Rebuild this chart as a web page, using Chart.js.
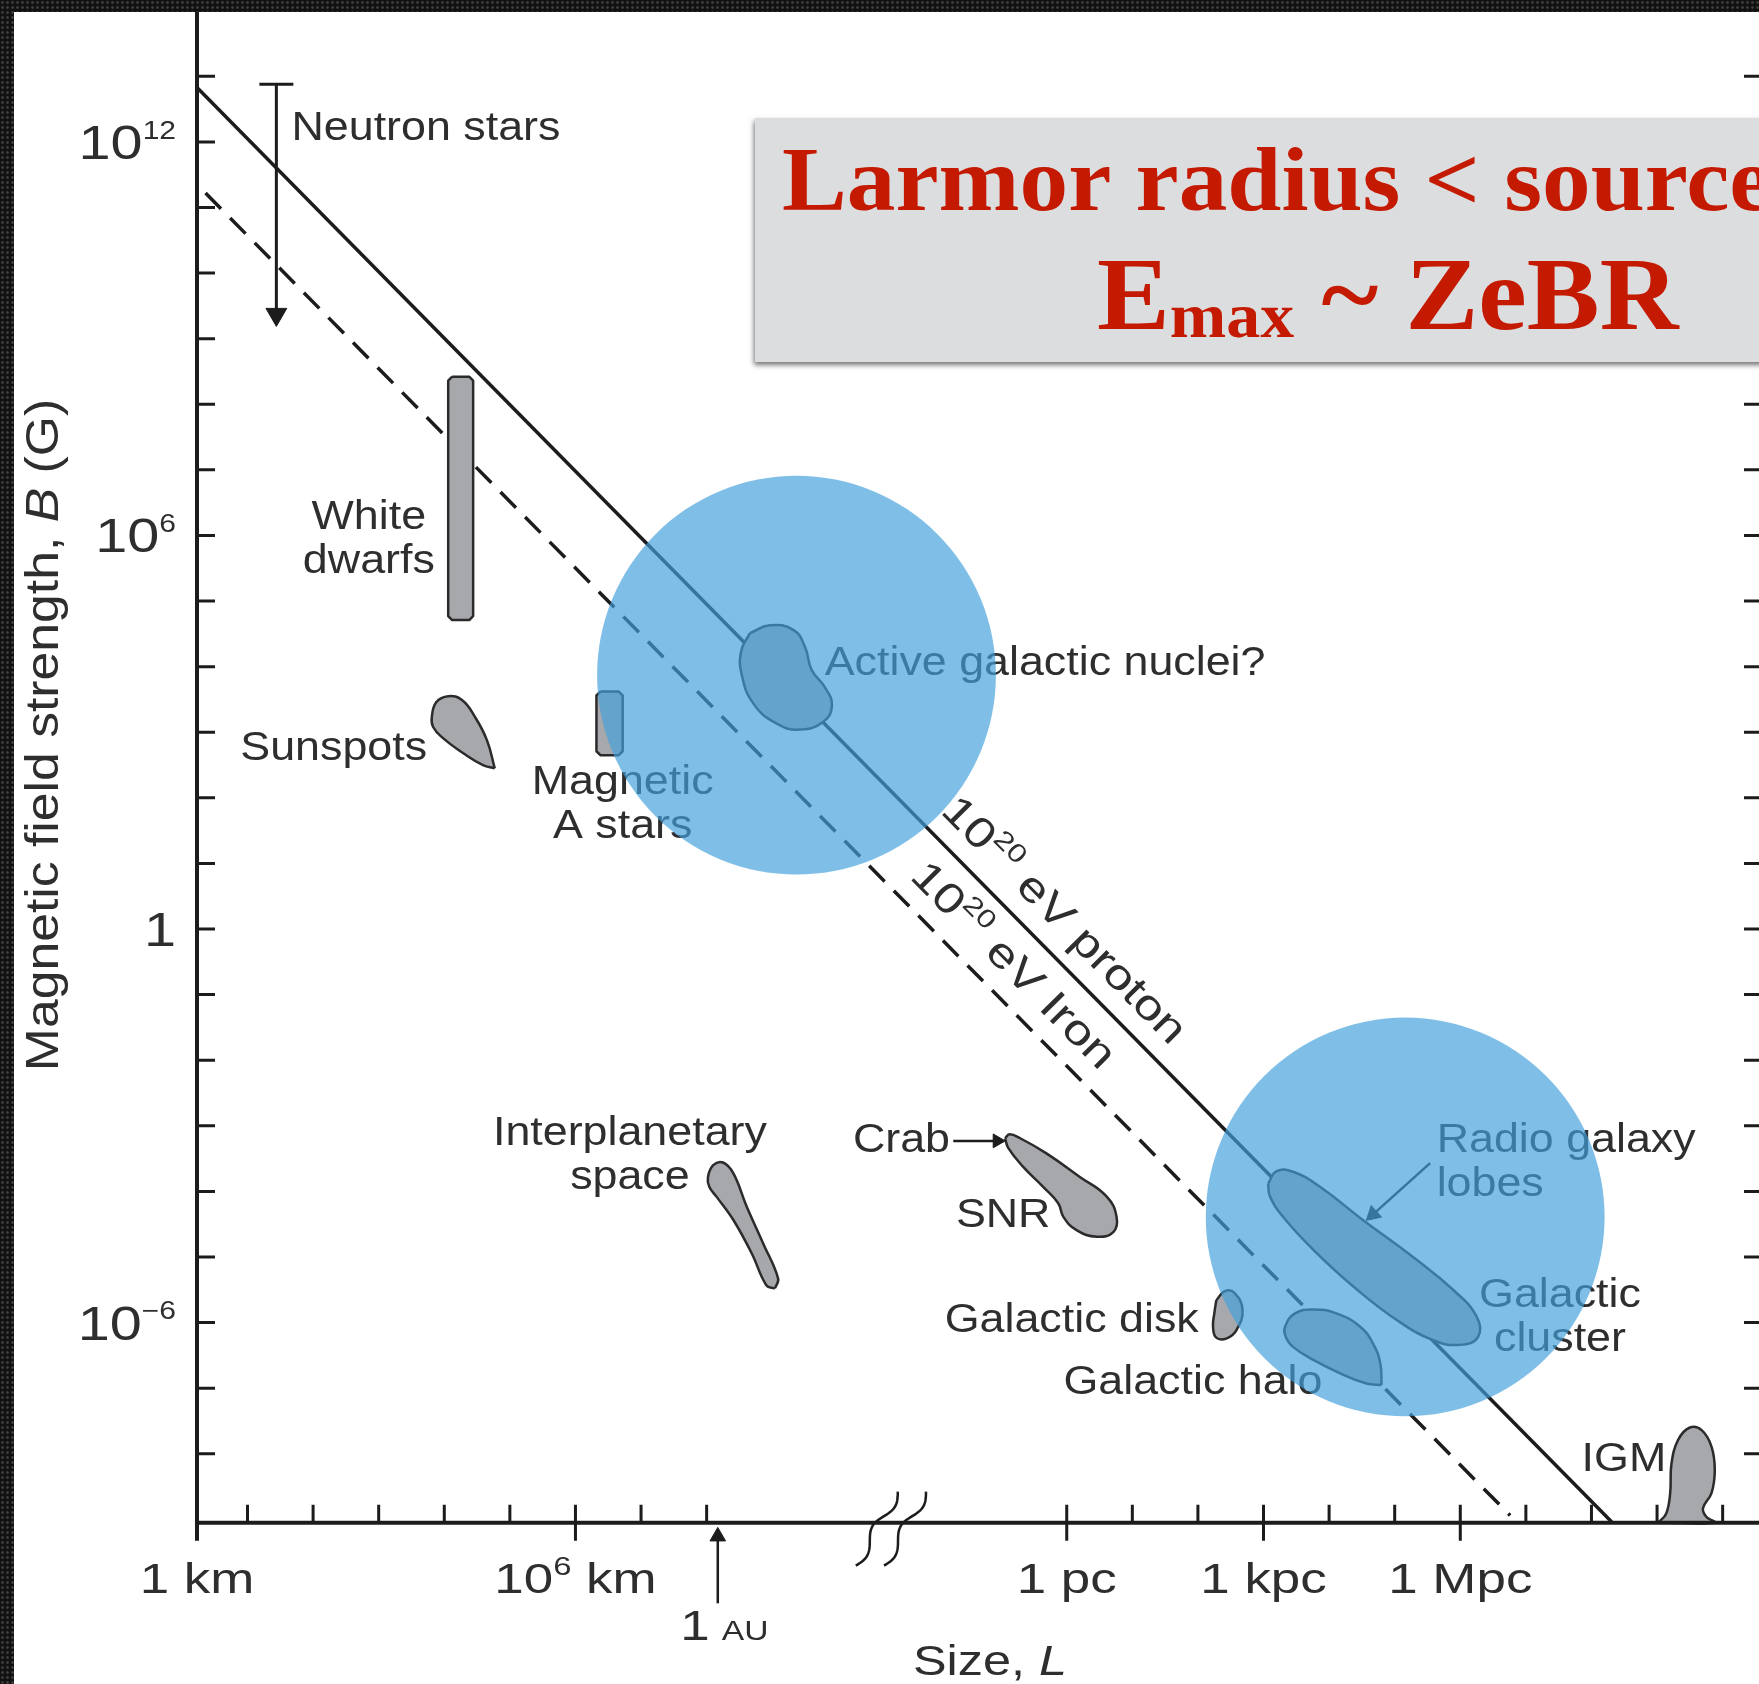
<!DOCTYPE html>
<html>
<head>
<meta charset="utf-8">
<script src="https://cdn.jsdelivr.net/npm/chart.js@4.4.0/dist/chart.umd.min.js"></script>
<style>
html, body { margin: 0; padding: 0; width: 1759px; height: 1684px; overflow: hidden; }
body {
  position: relative;
  background-color: #111;
  background-image: radial-gradient(circle, #3b3b3b 1.1px, transparent 1.6px);
  background-size: 5px 5px;
}
#wrap { position: absolute; left: 14px; top: 12px; width: 1760px; height: 1672px; background: #fff; }
</style>
</head>
<body>
<div id="wrap"><canvas id="myChart" width="1760" height="1672"></canvas></div>
<script>
// every value below is log10: size L in km, field B in gauss
var xRange = [0.23, 24.09];
var yRange = [-11.51, 13.98];
var sizeAxisAt = -9.05;

var protonL = [0.23, 21.80];
var protonB = [12.83, -9.04];
var ironL = [0.36, 20.25];
var ironB = [11.22, -8.94];

var neutronL = [1.44, 1.44];
var neutronB = [12.88, 9.37];

var whiteDwarfL = [4.12, 4.38, 4.44, 4.44, 4.38, 4.12, 4.06, 4.06];
var whiteDwarfB = [8.42, 8.42, 8.36, 4.77, 4.71, 4.71, 4.77, 8.36];
var aStarL = [6.38, 6.66, 6.72, 6.72, 6.66, 6.38, 6.32, 6.32];
var aStarB = [3.62, 3.62, 3.56, 2.71, 2.65, 2.65, 2.71, 3.56];
var sunspotL = [4.77, 4.59, 4.29, 3.98, 3.83, 3.81, 3.88, 4.06, 4.27, 4.47, 4.65];
var sunspotB = [2.45, 2.50, 2.68, 2.91, 3.08, 3.23, 3.46, 3.55, 3.49, 3.23, 2.88];
var agnL = [8.66, 8.96, 9.32, 9.50, 9.60, 9.80, 9.91, 9.78, 9.42, 9.07, 8.71, 8.53, 8.53];
var agnB = [4.51, 4.63, 4.56, 4.30, 3.95, 3.69, 3.41, 3.16, 3.04, 3.13, 3.44, 3.90, 4.25];
var interplanetL = [9.04, 8.91, 8.69, 8.41, 8.15, 8.04, 8.02, 8.10, 8.25, 8.41, 8.61, 8.86, 9.09];
var interplanetB = [-5.48, -5.43, -4.95, -4.44, -4.08, -3.93, -3.78, -3.60, -3.56, -3.73, -4.23, -4.79, -5.33];
var snrL = [12.55, 12.62, 12.78, 13.18, 13.69, 14.10, 14.25, 14.20, 13.95, 13.64, 13.44, 13.36, 13.13, 12.83, 12.60];
var snrB = [-3.19, -3.13, -3.19, -3.42, -3.78, -4.08, -4.39, -4.62, -4.69, -4.59, -4.39, -4.18, -3.93, -3.63, -3.34];
var diskL = [15.77, 15.90, 16.05, 16.17, 16.08, 15.93, 15.77, 15.72, 15.74];
var diskB = [-5.66, -5.52, -5.55, -5.81, -6.11, -6.24, -6.23, -6.06, -5.86];
var haloL = [18.29, 18.06, 17.65, 17.25, 16.94, 16.83, 16.82, 16.97, 17.25, 17.60, 17.96, 18.16, 18.27];
var haloB = [-6.95, -6.93, -6.77, -6.57, -6.37, -6.22, -6.06, -5.86, -5.80, -5.86, -6.06, -6.32, -6.62];
var lobesL = [16.56, 16.69, 16.94, 17.35, 18.01, 18.77, 19.38, 19.74, 19.76, 19.48, 19.08, 18.52, 17.86, 17.25, 16.79, 16.59];
var lobesB = [-3.88, -3.69, -3.70, -3.93, -4.44, -5.00, -5.50, -5.91, -6.22, -6.34, -6.27, -5.96, -5.45, -4.89, -4.39, -4.08];
var igmL = [22.51, 22.63, 22.69, 22.71, 22.81, 22.99, 23.17, 23.32, 23.37, 23.32, 23.19, 23.24, 23.37];
var igmB = [-9.05, -8.91, -8.60, -8.15, -7.79, -7.60, -7.64, -7.89, -8.25, -8.60, -8.83, -8.96, -9.05];

var crabArrowL = [11.76, 12.43];
var crabArrowB = [-3.23, -3.23];
var lobesArrowL = [19.03, 18.16];
var lobesArrowB = [-3.57, -4.35];
var auArrowL = [8.17, 8.17];
var auArrowB = [-10.28, -9.26];

var circleL = [9.37, 18.65];
var circleB = [3.87, -4.39];
var circleSpan = [3.04, 3.04];

var fieldTicks = [-8, -7, -6, -5, -4, -3, -2, -1, 0, 1, 2, 3, 4, 5, 6, 7, 8, 9, 10, 11, 12, 13];
var fieldLabels = [12, 6, 0, -6];
var kmTicks = [1, 2, 3, 4, 5, 6, 7, 8];
var pcTicks = [13.49, 14.49, 15.49, 16.49, 17.49, 18.49, 19.49, 20.49, 21.49, 22.49, 23.49];
var longTicks = [6, 13.49, 16.49, 19.49];
var sizeLabels = ['1 km', '10^{6} km', '1 pc', '1 kpc', '1 Mpc'];
var sizeLabelAt = [0.23, 6, 13.49, 16.49, 19.49];
var auLabel = ['1', 'AU'];
var axisBreaks = [10.64, 11.07];

var notes = [
  { text: ['Neutron stars'], l: 1.67, b: 12.03, align: 'left' },
  { text: ['White', 'dwarfs'], l: 2.85, b: 6.10, align: 'center' },
  { text: ['Sunspots'], l: 0.89, b: 2.58, align: 'left' },
  { text: ['Magnetic', 'A stars'], l: 6.72, b: 2.06, align: 'center' },
  { text: ['Active galactic nuclei?'], l: 9.80, b: 3.87, align: 'left' },
  { text: ['Interplanetary', 'space'], l: 6.83, b: -3.30, align: 'center' },
  { text: ['Crab'], l: 10.23, b: -3.40, align: 'left' },
  { text: ['SNR'], l: 11.80, b: -4.54, align: 'left' },
  { text: ['Galactic disk'], l: 11.63, b: -6.14, align: 'left' },
  { text: ['Galactic halo'], l: 13.44, b: -7.09, align: 'left' },
  { text: ['Radio galaxy', 'lobes'], l: 19.13, b: -3.40, align: 'left' },
  { text: ['Galactic', 'cluster'], l: 21.01, b: -5.76, align: 'center' },
  { text: ['IGM'], l: 21.34, b: -8.27, align: 'left' }
];
var lineNotes = [
  { text: '10^{20} eV proton', l: 11.55, b: 1.78, along: 'proton' },
  { text: '10^{20} eV Iron', l: 11.08, b: 0.78, along: 'iron' }
];
var boxLines = ['Larmor radius < source size', 'E_{max} ~ ZeBR'];

var SANS = "'Liberation Sans', Arial, Helvetica, sans-serif";
var SERIF = "'Liberation Serif', 'Times New Roman', serif";
var INK = '#1c1c1c';
var TEXT = '#2e2e2e';
var NOTE = { size: 40, stretch: 1.12, family: SANS };
var SLANT = { size: 42, stretch: 1.22, family: SANS };
var XTICK = { size: 42, stretch: 1.26, family: SANS };
var YTICK = { size: 48, stretch: 1.2, family: SANS, small: 0.52 };
var SMALL = { size: 28, stretch: 1.2, family: SANS };
var YTITLE = { size: 47, stretch: 1.1, family: SANS };
var XTITLE = { size: 42, stretch: 1.2, family: SANS };
var TITLE1 = { size: 90, stretch: 1.08, family: SERIF, weight: 'bold' };
var TITLE2 = { size: 103, stretch: 1.06, family: SERIF, weight: 'bold', small: 0.62, drop: 0.08 };

var CIRCLES = 0; // dataset index of the blue circles

function pts(ls, bs) {
  return ls.map(function(l, i) { return { x: Math.pow(10, l), y: Math.pow(10, bs[i]) }; });
}
function loop(ls, bs) {
  var p = pts(ls, bs);
  p.push(p[0]);
  return p;
}

function parseRich(str) {
  return str.split(/(\^\{[^}]*\}|_\{[^}]*\}|\/\{[^}]*\})/).filter(Boolean).map(function(p) {
    if (p.indexOf('^{') === 0) return { t: p.slice(2, -1), kind: 'sup' };
    if (p.indexOf('_{') === 0) return { t: p.slice(2, -1), kind: 'sub' };
    if (p.indexOf('/{') === 0) return { t: p.slice(2, -1), kind: 'it' };
    return { t: p, kind: 'n' };
  });
}
function runFont(st, kind) {
  var size = (kind === 'sup' || kind === 'sub') ? Math.round(st.size * (st.small || 0.62)) : st.size;
  return (kind === 'it' ? 'italic ' : '') + (st.weight || 'normal') + ' ' + size + 'px ' + st.family;
}
function drawRich(ctx, str, x, y, align, st) {
  var runs = parseRich(str);
  var w = 0;
  runs.forEach(function(r) { ctx.font = runFont(st, r.kind); r.w = ctx.measureText(r.t).width; w += r.w; });
  var cx = align === 'center' ? -w / 2 : align === 'right' ? -w : 0;
  ctx.save();
  ctx.translate(x, y);
  ctx.scale(st.stretch || 1, 1);
  ctx.textAlign = 'left';
  ctx.textBaseline = 'alphabetic';
  runs.forEach(function(r) {
    ctx.font = runFont(st, r.kind);
    var dy = r.kind === 'sup' ? -st.size * 0.42 : r.kind === 'sub' ? st.size * (st.drop || 0.1) : 0;
    ctx.fillText(r.t, cx, dy);
    cx += r.w;
  });
  ctx.restore();
}

function drawNotes(chart) {
  var ctx = chart.ctx, x = chart.scales.x, y = chart.scales.y;
  ctx.save();
  ctx.fillStyle = TEXT;
  notes.forEach(function(n) {
    var px = x.getPixelForValue(Math.pow(10, n.l)), py = y.getPixelForValue(Math.pow(10, n.b));
    n.text.forEach(function(line, i) { drawRich(ctx, line, px, py + i * 44, n.align, NOTE); });
  });
  lineNotes.forEach(function(n) {
    var ls = n.along === 'proton' ? protonL : ironL, bs = n.along === 'proton' ? protonB : ironB;
    var x1 = x.getPixelForValue(Math.pow(10, ls[0])), y1 = y.getPixelForValue(Math.pow(10, bs[0]));
    var x2 = x.getPixelForValue(Math.pow(10, ls[1])), y2 = y.getPixelForValue(Math.pow(10, bs[1]));
    ctx.save();
    ctx.translate(x.getPixelForValue(Math.pow(10, n.l)), y.getPixelForValue(Math.pow(10, n.b)));
    ctx.rotate(Math.atan2(y2 - y1, x2 - x1));
    drawRich(ctx, n.text, 0, 0, 'left', SLANT);
    ctx.restore();
  });
  ctx.restore();
}

function drawAxes(chart) {
  var ctx = chart.ctx, a = chart.chartArea, x = chart.scales.x, y = chart.scales.y;
  var X = function(v) { return x.getPixelForValue(Math.pow(10, v)); };
  var Y = function(v) { return y.getPixelForValue(Math.pow(10, v)); };
  var base = Y(sizeAxisAt);
  ctx.save();
  ctx.strokeStyle = INK;
  ctx.fillStyle = TEXT;
  ctx.lineWidth = 4;
  ctx.beginPath();
  ctx.moveTo(a.left, 0);
  ctx.lineTo(a.left, base + 18);
  ctx.moveTo(a.left - 2, base);
  ctx.lineTo(chart.width, base);
  ctx.stroke();

  ctx.lineWidth = 3;
  ctx.beginPath();
  fieldTicks.forEach(function(v) {
    var py = Y(v);
    ctx.moveTo(a.left, py); ctx.lineTo(a.left + 18, py);
    ctx.moveTo(a.right - 18, py); ctx.lineTo(a.right, py);
  });
  kmTicks.concat(pcTicks).forEach(function(v) {
    var px = X(v);
    ctx.moveTo(px, base - 18);
    ctx.lineTo(px, base + (longTicks.indexOf(v) >= 0 ? 18 : 0));
  });
  ctx.stroke();

  // wavy marks on the size axis
  ctx.lineWidth = 2.5;
  axisBreaks.forEach(function(v) {
    var cx = X(v);
    ctx.beginPath();
    for (var i = 0; i <= 40; i++) {
      var t = i / 40;
      var bx = cx + 18 - 42 * t, by = base - 31 + 74 * t;
      var w = 5 * Math.sin(t * Math.PI * 3);
      if (i === 0) ctx.moveTo(bx + w * 0.87, by + w * 0.49);
      else ctx.lineTo(bx + w * 0.87, by + w * 0.49);
    }
    ctx.stroke();
  });

  fieldLabels.forEach(function(p) {
    var txt = p === 0 ? '1' : '10^{' + (p < 0 ? '\u2212' + (-p) : p) + '}';
    drawRich(ctx, txt, a.left - 21, Y(p) + 17, 'right', YTICK);
  });
  sizeLabels.forEach(function(t, i) {
    drawRich(ctx, t, X(sizeLabelAt[i]), base + 70, 'center', XTICK);
  });
  var au = X(auArrowL[0]);
  drawRich(ctx, auLabel[0], au - 8, base + 117, 'right', XTICK);
  drawRich(ctx, auLabel[1], au + 4, base + 117, 'left', SMALL);

  drawRich(ctx, 'Size, /{L}', 976, base + 152, 'center', XTITLE);
  ctx.save();
  ctx.translate(44, 723);
  ctx.rotate(-Math.PI / 2);
  drawRich(ctx, 'Magnetic field strength, /{B} (G)', 0, 0, 'center', YTITLE);
  ctx.restore();
  ctx.restore();
}

function drawTitleBox(chart) {
  var ctx = chart.ctx;
  ctx.save();
  ctx.shadowColor = 'rgba(0,0,0,0.55)';
  ctx.shadowBlur = 5;
  ctx.shadowOffsetX = -1;
  ctx.shadowOffsetY = 3;
  ctx.fillStyle = '#dcdddf';
  ctx.fillRect(741, 106, chart.width, 244);
  ctx.restore();
  ctx.save();
  ctx.fillStyle = '#c41a02';
  drawRich(ctx, boxLines[0], 768, 198, 'left', TITLE1);
  drawRich(ctx, boxLines[1], 1083, 317, 'left', TITLE2);
  ctx.restore();
}

var framePlugin = {
  id: 'frame',
  beforeDatasetDraw: function(chart, args) {
    if (args.index === CIRCLES) drawNotes(chart);
  },
  afterDatasetsDraw: function(chart) {
    drawAxes(chart);
    drawTitleBox(chart);
  }
};

function blob(ls, bs, tension) {
  return {
    data: loop(ls, bs), showLine: true, fill: 'shape', clip: false,
    backgroundColor: '#a7a8ac', borderColor: '#2b2b2b', borderWidth: 2.5,
    borderJoinStyle: 'round', pointRadius: 0, tension: tension, order: 2
  };
}
function arrow(ls, bs, rot, r) {
  return {
    data: pts(ls, bs), showLine: true, clip: false, borderColor: INK, borderWidth: 2.5,
    pointStyle: 'triangle', pointRadius: [0, r], rotation: [0, rot],
    pointBackgroundColor: INK, pointBorderColor: INK, pointBorderWidth: 1, order: 3
  };
}

// circle radius = its span in decades, measured on the size scale
function circleRadius(c) {
  var s = c.chart.scales.x;
  var i = c.dataIndex;
  if (!s || i === undefined) return 0;
  var r = s.getPixelForValue(Math.pow(10, circleL[i] + circleSpan[i])) - s.getPixelForValue(Math.pow(10, circleL[i]));
  return isFinite(r) && r > 0 ? r : 0;
}

function printChart() {
  var ctx = document.getElementById('myChart').getContext('2d');
  var myChart = new Chart(ctx, {
    type: 'scatter',
    data: {
      datasets: [
        {
          data: pts(circleL, circleB), showLine: false, clip: false,
          pointStyle: 'circle', pointRadius: circleRadius, pointHoverRadius: circleRadius,
          pointBorderWidth: 0, pointBackgroundColor: 'rgba(66,160,220,0.68)',
          pointBorderColor: 'rgba(0,0,0,0)', order: 1
        },
        blob(whiteDwarfL, whiteDwarfB, 0),
        blob(aStarL, aStarB, 0),
        blob(sunspotL, sunspotB, 0.45),
        blob(agnL, agnB, 0.45),
        blob(interplanetL, interplanetB, 0.4),
        blob(snrL, snrB, 0.45),
        blob(diskL, diskB, 0.45),
        blob(haloL, haloB, 0.45),
        blob(lobesL, lobesB, 0.45),
        blob(igmL, igmB, 0.4),
        {
          data: pts(protonL, protonB), showLine: true, clip: false,
          borderColor: INK, borderWidth: 3.5, pointRadius: 0, order: 3
        },
        {
          data: pts(ironL, ironB), showLine: true, clip: false,
          borderColor: INK, borderWidth: 3.5, borderDash: [22, 13], pointRadius: 0, order: 3
        },
        {
          data: pts(neutronL, neutronB), showLine: true, clip: false,
          borderColor: INK, borderWidth: 3,
          pointStyle: ['line', 'triangle'], pointRadius: [17, 12], rotation: [0, 180],
          pointBackgroundColor: INK, pointBorderColor: INK, pointBorderWidth: [3, 1], order: 3
        },
        arrow(crabArrowL, crabArrowB, 90, 8),
        arrow(lobesArrowL, lobesArrowB, 228, 9),
        arrow(auArrowL, auArrowB, 0, 9)
      ]
    },
    options: {
      responsive: false,
      animation: false,
      devicePixelRatio: 1,
      events: [],
      layout: { padding: { left: 183, right: 12, top: 0, bottom: 0 }, autoPadding: false },
      scales: {
        x: { type: 'logarithmic', min: Math.pow(10, xRange[0]), max: Math.pow(10, xRange[1]), display: false },
        y: { type: 'logarithmic', min: Math.pow(10, yRange[0]), max: Math.pow(10, yRange[1]), display: false }
      },
      plugins: { legend: { display: false }, tooltip: { enabled: false } }
    },
    plugins: [framePlugin]
  });
  myChart.update();
}

function init() {
  printChart();
}
init();
</script>
</body>
</html>
